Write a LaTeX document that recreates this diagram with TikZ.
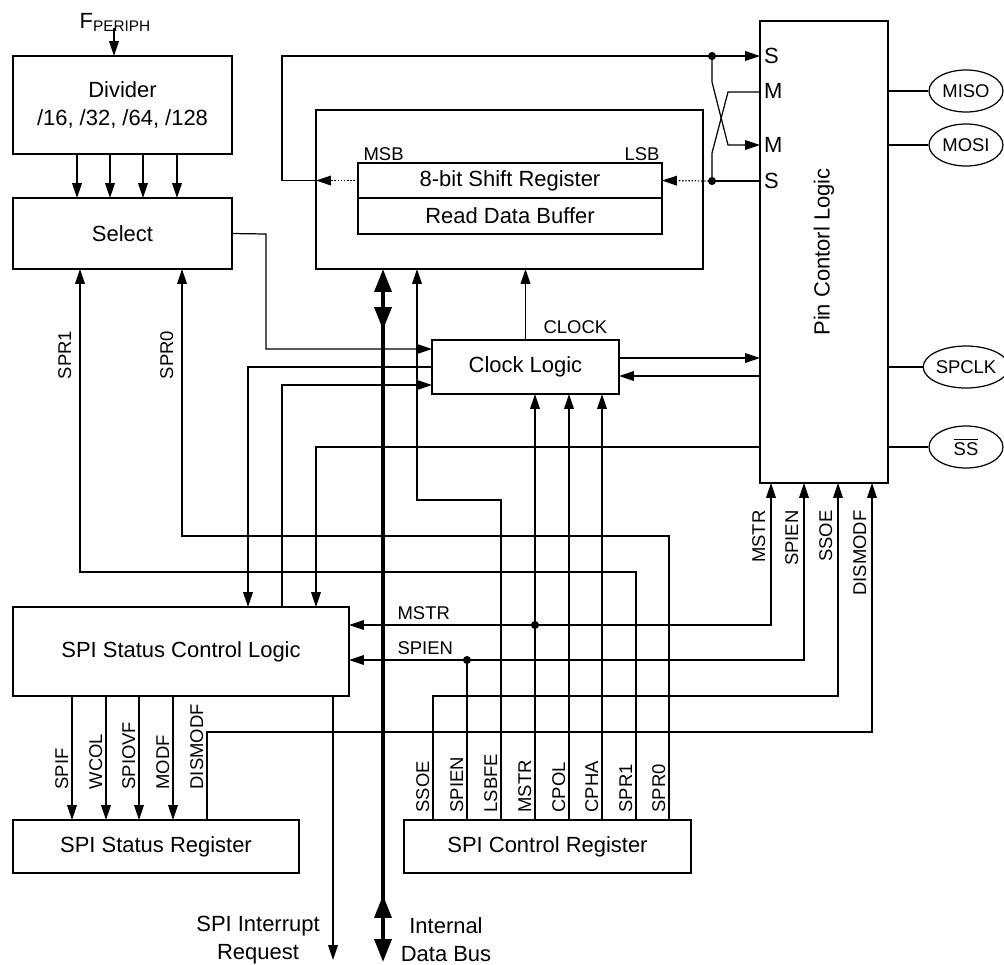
\documentclass[tikz,border=0pt]{standalone}
\usepackage{fontspec}
\setmainfont{Liberation Sans}
\usetikzlibrary{arrows.meta,positioning,shapes.geometric,calc}
\newcommand\mainsize{\fontsize{12.5}{16}\selectfont}
\newcommand\sigsize{\fontsize{10.5}{12}\selectfont}

\begin{document}
\begin{tikzpicture}[
  x=0.02cm, y=-0.02cm, line width=0.7pt,
  blk/.style={rectangle, draw, inner sep=0pt, outer sep=0pt, font=\mainsize, align=center},
  pad/.style={ellipse, draw, minimum width=1.48cm, minimum height=0.84cm, inner sep=0pt, font=\sigsize},
  arr/.style={-{Triangle[length=8.5pt,width=5.5pt]}},
  dotline/.style={dash pattern=on 0.8pt off 1pt},
  bus/.style={line width=2.3pt},
  bustip/.style={bus, -{Triangle[length=13pt,width=9.5pt]}},
  sig/.style={font=\sigsize, inner sep=0pt},
  vsig/.style={sig, rotate=90},
  pinlbl/.style={font=\mainsize, anchor=west, inner sep=2pt},
  junct/.style={circle, fill, inner sep=0pt, minimum size=4.6pt}
]
\useasboundingbox (0,0) rectangle (1004,964);

% blocks
\node[blk, minimum width=4.38cm, minimum height=1.96cm] (div) at (122.5,105) {Divider\\/16, /32, /64, /128};
\node[blk, minimum width=4.38cm, minimum height=1.42cm] (sel) at (122.5,233.5) {Select};
\node[blk, minimum width=7.74cm, minimum height=3.18cm] (outer) at (509.5,189.5) {};
\node[blk, minimum width=6.08cm, minimum height=0.70cm] (shift) at (510,180.5) {8-bit Shift Register};
\node[blk, minimum width=6.08cm, minimum height=0.72cm, below=0pt of shift] (rdbuf) {Read Data Buffer};
\node[blk, minimum width=2.56cm, minimum height=9.24cm] (pin) at (824,252) {};
\node[rotate=90, font=\mainsize] (pinname) at (pin.center) {Pin Contorl Logic};
\node[blk, minimum width=3.74cm, minimum height=1.08cm] (clk) at (525.5,367) {Clock Logic};
\node[blk, minimum width=6.72cm, minimum height=1.78cm] (sscl) at (181,651.5) {SPI Status Control Logic};
\node[blk, minimum width=5.72cm, minimum height=1.06cm] (stat) at (156,846.5) {SPI Status Register};
\node[blk, minimum width=5.74cm, minimum height=1.06cm] (ctrl) at (547.5,846.5) {SPI Control Register};

% pins
\foreach \y/\t [count=\i] in {56/S, 91/M, 145/M, 181/S}
  \node[pinlbl] (pl\i) at (pin.west |- 0,\y) {\t};
\foreach \y/\t/\n in {91/MISO/miso, 145/MOSI/mosi, 367/SPCLK/spclk, 447/{$\overline{\mbox{SS}}$}/ss} {
  \node[pad] (\n) at (966,\y) {\t};
  \draw (pin.east |- \n) -- (\n);
}

% clock input and divider
\node[font=\mainsize, anchor=base west, inner sep=0pt] (fp) at (79,28) {F\textsubscript{PERIPH}};
\draw[arr] (fp.base -| 114,0) -- (div.north -| 114,0);
\foreach \x in {77,110,143,177} \draw[arr] (div.south -| \x,0) -- (sel.north -| \x,0);
\draw[arr] (sel.east) -- (266,234) |- (clk.west |- 0,349);

% shift register loop
\coordinate (jtop) at (712,56);
\coordinate (jbot) at (712,181);
\draw[arr, dotline] (shift.west) -- (outer.west |- shift.west);
\draw[arr] (outer.west |- shift.west) -| (282,56) -- (pin.west |- jtop);
\draw (pin.west |- jbot) -- (jbot);
\draw[arr, dotline] (jbot) -- (shift.east);
\draw[arr] (jtop) -- (712,82) -- (728,145) -- (pin.west |- 0,145);
\draw (pin.west |- 0,92) -- (728,92) -- (712,153) -- (jbot);
\node[junct] (d1) at (jtop) {};
\node[junct] (d2) at (jbot) {};
\node[sig, anchor=base west] (msb) at (363,160) {MSB};
\node[sig, anchor=base east] (lsb) at (660,160) {LSB};

% clock logic
\draw[arr] (clk.north) -- (outer.south -| clk.north);
\node[sig, anchor=base west] (clklbl) at (543,333) {CLOCK};
\draw[arr] (clk.east |- 0,358) -- (pin.west |- 0,358);
\draw[arr] (pin.west |- 0,376) -- (clk.east |- 0,376);
\draw[arr] (clk.west) -| (sscl.north -| 248,0);
\draw[arr] (sscl.north -| 282,0) |- (clk.west |- 0,385);
\draw[arr] (pin.west |- 0,447) -| (sscl.north -| 316,0);

% control register bits
\coordinate (jmstr) at (535,625);
\coordinate (jspien) at (467,660);
\draw[arr] (ctrl.north -| 501,0) |- (417,500) -- (outer.south -| 417,0);
\foreach \x in {535,569,602} \draw[arr] (ctrl.north -| \x,0) -- (clk.south -| \x,0);
\draw[arr] (ctrl.north -| 636,0) |- (80,572) -- (sel.south -| 80,0);
\draw[arr] (ctrl.north -| 669,0) |- (182,536) -- (sel.south -| 182,0);
\draw[arr] (ctrl.north -| 433,0) |- (838,696) -- (pin.south -| 838,0);
\draw (ctrl.north -| jspien) -- (jspien);
\draw[arr] (jmstr) -- (sscl.east |- jmstr);
\draw[arr] (jmstr) -| (pin.south -| 771,0);
\draw[arr] (jspien) -- (sscl.east |- jspien);
\draw[arr] (jspien) -| (pin.south -| 804,0);
\node[junct] (d3) at (jmstr) {};
\node[junct] (d4) at (jspien) {};
\node[sig, anchor=base west] (mstrlbl) at (397,619) {MSTR};
\node[sig, anchor=base west] (spienlbl) at (397,654) {SPIEN};
\foreach \x/\t in {433/SSOE, 467/SPIEN, 501/LSBFE, 535/MSTR, 569/CPOL, 602/CPHA, 636/SPR1, 669/SPR0}
  \node[vsig, anchor=base west] (cr-\t) at (\x-4,813) {\t};
\foreach \x/\t in {771/MSTR, 804/SPIEN, 838/SSOE, 872/DISMODF}
  \node[vsig, anchor=base east] (pb-\t) at (\x-6,510) {\t};
\node[vsig, anchor=base] (spr1lbl) at (71,355) {SPR1};
\node[vsig, anchor=base] (spr0lbl) at (173,355) {SPR0};

% status register bits
\foreach \x in {72,106,139,173} \draw[arr] (sscl.south -| \x,0) -- (stat.north -| \x,0);
\draw[arr] (stat.north -| 207,0) |- (872,732) -- (pin.south -| 872,0);
\foreach \x/\t in {72/SPIF, 106/WCOL, 139/SPIOVF, 173/MODF, 207/DISMODF}
  \node[vsig, anchor=base west] (sr-\t) at (\x-4,790) {\t};

% interrupt and data bus
\coordinate (irq) at (333,960);
\draw[arr] (sscl.south -| irq) -- (irq);
\node[font=\mainsize, align=center] (irqlbl) at (258,940) {SPI Interrupt\\Request};
\coordinate (busbot) at (383,962);
\draw[bus] (383,320) -- (383,905);
\draw[bustip] (383,300) -- (outer.south -| busbot);
\draw[bustip] (383,300) -- (383,330);
\draw[bustip] (383,925) -- (383,895);
\draw[bustip] (383,925) -- (busbot);
\node[font=\mainsize, align=center] (buslbl) at (446,940) {Internal\\Data Bus};
\end{tikzpicture}
\end{document}
